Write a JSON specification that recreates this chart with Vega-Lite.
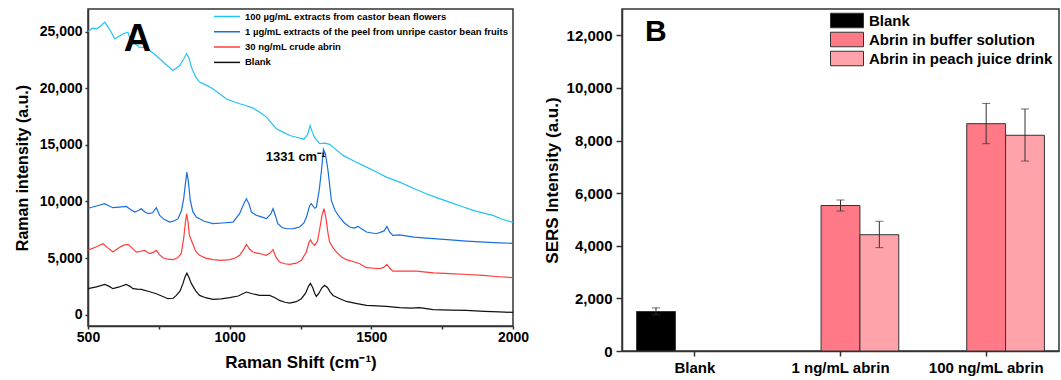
{
  "$schema": "https://vega.github.io/schema/vega-lite/v6.json",
  "autosize": {"type": "none"},
  "padding": {"left": 88, "top": 9, "right": 973, "bottom": 371},
  "bounds": "flush",
  "spacing": 109,
  "background": "white",
  "config": {
    "font": "Liberation Sans",
    "view": {"stroke": "#333", "strokeWidth": 1.5},
    "axis": {"domainColor": "#333", "domainWidth": 1.5, "tickColor": "#333", "tickWidth": 1.5, "labelColor": "black", "titleColor": "black", "labelFontWeight": "bold", "titleFontWeight": "bold", "grid": false, "labelOverlap": false, "labelFont": "Liberation Sans", "titleFont": "Liberation Sans"},
    "legend": {"labelFont": "Liberation Sans", "labelFontWeight": "bold", "labelColor": "black", "padding": 0}
  },
  "datasets": {
    "spectra": [
      {"series": "F", "x": 500, "y": 25000}, {"series": "F", "x": 515, "y": 25300}, {"series": "F", "x": 530, "y": 25250}, {"series": "F", "x": 545, "y": 25500}, {"series": "F", "x": 559, "y": 25840}, {"series": "F", "x": 571, "y": 25400}, {"series": "F", "x": 583, "y": 24900}, {"series": "F", "x": 594, "y": 24370}, {"series": "F", "x": 610, "y": 24600}, {"series": "F", "x": 624, "y": 24810}, {"series": "F", "x": 641, "y": 24950}, {"series": "F", "x": 653, "y": 24070}, {"series": "F", "x": 668, "y": 23900}, {"series": "F", "x": 682, "y": 23630}, {"series": "F", "x": 700, "y": 23600}, {"series": "F", "x": 718, "y": 23340}, {"series": "F", "x": 735, "y": 23000}, {"series": "F", "x": 753, "y": 22600}, {"series": "F", "x": 775, "y": 22100}, {"series": "F", "x": 800, "y": 21570}, {"series": "F", "x": 824, "y": 22010}, {"series": "F", "x": 838, "y": 22600}, {"series": "F", "x": 848, "y": 23050}, {"series": "F", "x": 856, "y": 22700}, {"series": "F", "x": 865, "y": 21860}, {"series": "F", "x": 880, "y": 21000}, {"series": "F", "x": 894, "y": 20540}, {"series": "F", "x": 915, "y": 20300}, {"series": "F", "x": 941, "y": 19960}, {"series": "F", "x": 965, "y": 19500}, {"series": "F", "x": 988, "y": 19070}, {"series": "F", "x": 1010, "y": 18850}, {"series": "F", "x": 1035, "y": 18630}, {"series": "F", "x": 1060, "y": 18450}, {"series": "F", "x": 1082, "y": 18250}, {"series": "F", "x": 1105, "y": 17900}, {"series": "F", "x": 1130, "y": 17450}, {"series": "F", "x": 1150, "y": 16850}, {"series": "F", "x": 1165, "y": 16420}, {"series": "F", "x": 1190, "y": 16100}, {"series": "F", "x": 1212, "y": 15830}, {"series": "F", "x": 1240, "y": 15650}, {"series": "F", "x": 1262, "y": 15500}, {"series": "F", "x": 1275, "y": 15900}, {"series": "F", "x": 1284, "y": 16700}, {"series": "F", "x": 1292, "y": 16100}, {"series": "F", "x": 1300, "y": 15650}, {"series": "F", "x": 1318, "y": 15100}, {"series": "F", "x": 1335, "y": 15150}, {"series": "F", "x": 1353, "y": 15050}, {"series": "F", "x": 1375, "y": 14600}, {"series": "F", "x": 1400, "y": 14070}, {"series": "F", "x": 1440, "y": 13550}, {"series": "F", "x": 1483, "y": 13030}, {"series": "F", "x": 1520, "y": 12580}, {"series": "F", "x": 1553, "y": 12150}, {"series": "F", "x": 1600, "y": 11710}, {"series": "F", "x": 1650, "y": 11150}, {"series": "F", "x": 1694, "y": 10680}, {"series": "F", "x": 1735, "y": 10300}, {"series": "F", "x": 1776, "y": 9940}, {"series": "F", "x": 1820, "y": 9550}, {"series": "F", "x": 1859, "y": 9210}, {"series": "F", "x": 1900, "y": 8950}, {"series": "F", "x": 1929, "y": 8770}, {"series": "F", "x": 1960, "y": 8450}, {"series": "F", "x": 2000, "y": 8150},
      {"series": "P", "x": 500, "y": 9400}, {"series": "P", "x": 530, "y": 9600}, {"series": "P", "x": 559, "y": 9800}, {"series": "P", "x": 575, "y": 9600}, {"series": "P", "x": 588, "y": 9450}, {"series": "P", "x": 610, "y": 9500}, {"series": "P", "x": 635, "y": 9560}, {"series": "P", "x": 650, "y": 9300}, {"series": "P", "x": 665, "y": 9060}, {"series": "P", "x": 678, "y": 9200}, {"series": "P", "x": 688, "y": 9360}, {"series": "P", "x": 700, "y": 9100}, {"series": "P", "x": 712, "y": 8920}, {"series": "P", "x": 728, "y": 9000}, {"series": "P", "x": 741, "y": 9450}, {"series": "P", "x": 753, "y": 8770}, {"series": "P", "x": 770, "y": 8400}, {"series": "P", "x": 788, "y": 8180}, {"series": "P", "x": 805, "y": 8300}, {"series": "P", "x": 818, "y": 8480}, {"series": "P", "x": 830, "y": 9200}, {"series": "P", "x": 838, "y": 10300}, {"series": "P", "x": 844, "y": 11600}, {"series": "P", "x": 849, "y": 12600}, {"series": "P", "x": 854, "y": 11800}, {"series": "P", "x": 861, "y": 10090}, {"series": "P", "x": 870, "y": 9100}, {"series": "P", "x": 882, "y": 8620}, {"series": "P", "x": 910, "y": 8250}, {"series": "P", "x": 941, "y": 8040}, {"series": "P", "x": 975, "y": 8100}, {"series": "P", "x": 1012, "y": 8180}, {"series": "P", "x": 1035, "y": 8920}, {"series": "P", "x": 1050, "y": 9800}, {"series": "P", "x": 1059, "y": 10240}, {"series": "P", "x": 1068, "y": 9800}, {"series": "P", "x": 1077, "y": 9060}, {"series": "P", "x": 1092, "y": 8800}, {"series": "P", "x": 1106, "y": 8680}, {"series": "P", "x": 1130, "y": 8480}, {"series": "P", "x": 1145, "y": 8900}, {"series": "P", "x": 1153, "y": 9360}, {"series": "P", "x": 1162, "y": 8700}, {"series": "P", "x": 1170, "y": 8040}, {"series": "P", "x": 1185, "y": 7700}, {"series": "P", "x": 1200, "y": 7590}, {"series": "P", "x": 1225, "y": 7600}, {"series": "P", "x": 1247, "y": 7740}, {"series": "P", "x": 1262, "y": 8100}, {"series": "P", "x": 1271, "y": 8620}, {"series": "P", "x": 1282, "y": 9600}, {"series": "P", "x": 1288, "y": 9800}, {"series": "P", "x": 1300, "y": 9400}, {"series": "P", "x": 1306, "y": 9500}, {"series": "P", "x": 1316, "y": 11000}, {"series": "P", "x": 1324, "y": 12740}, {"series": "P", "x": 1331, "y": 14600}, {"series": "P", "x": 1338, "y": 14200}, {"series": "P", "x": 1347, "y": 12740}, {"series": "P", "x": 1359, "y": 10090}, {"series": "P", "x": 1372, "y": 9200}, {"series": "P", "x": 1388, "y": 8620}, {"series": "P", "x": 1405, "y": 8100}, {"series": "P", "x": 1424, "y": 7740}, {"series": "P", "x": 1440, "y": 7650}, {"series": "P", "x": 1453, "y": 7800}, {"series": "P", "x": 1465, "y": 7600}, {"series": "P", "x": 1483, "y": 7300}, {"series": "P", "x": 1518, "y": 7150}, {"series": "P", "x": 1545, "y": 7400}, {"series": "P", "x": 1555, "y": 7800}, {"series": "P", "x": 1565, "y": 7300}, {"series": "P", "x": 1576, "y": 7000}, {"series": "P", "x": 1600, "y": 7050}, {"series": "P", "x": 1650, "y": 6850}, {"series": "P", "x": 1718, "y": 6710}, {"series": "P", "x": 1780, "y": 6600}, {"series": "P", "x": 1835, "y": 6500}, {"series": "P", "x": 1900, "y": 6400}, {"series": "P", "x": 1950, "y": 6350}, {"series": "P", "x": 2000, "y": 6300},
      {"series": "C", "x": 500, "y": 5700}, {"series": "C", "x": 530, "y": 6000}, {"series": "C", "x": 553, "y": 6270}, {"series": "C", "x": 570, "y": 5900}, {"series": "C", "x": 588, "y": 5530}, {"series": "C", "x": 605, "y": 5850}, {"series": "C", "x": 624, "y": 6120}, {"series": "C", "x": 641, "y": 6210}, {"series": "C", "x": 655, "y": 5900}, {"series": "C", "x": 671, "y": 5530}, {"series": "C", "x": 685, "y": 5600}, {"series": "C", "x": 700, "y": 5680}, {"series": "C", "x": 718, "y": 5390}, {"series": "C", "x": 730, "y": 5500}, {"series": "C", "x": 741, "y": 5680}, {"series": "C", "x": 752, "y": 5300}, {"series": "C", "x": 765, "y": 5030}, {"series": "C", "x": 782, "y": 4900}, {"series": "C", "x": 800, "y": 4860}, {"series": "C", "x": 815, "y": 5000}, {"series": "C", "x": 829, "y": 5390}, {"series": "C", "x": 838, "y": 6800}, {"series": "C", "x": 844, "y": 8200}, {"series": "C", "x": 848, "y": 8900}, {"series": "C", "x": 853, "y": 8200}, {"series": "C", "x": 858, "y": 7000}, {"series": "C", "x": 865, "y": 6560}, {"series": "C", "x": 880, "y": 5600}, {"series": "C", "x": 894, "y": 5240}, {"series": "C", "x": 915, "y": 5000}, {"series": "C", "x": 941, "y": 4860}, {"series": "C", "x": 970, "y": 4800}, {"series": "C", "x": 1000, "y": 4860}, {"series": "C", "x": 1020, "y": 5000}, {"series": "C", "x": 1035, "y": 5240}, {"series": "C", "x": 1048, "y": 5700}, {"series": "C", "x": 1059, "y": 6210}, {"series": "C", "x": 1070, "y": 5800}, {"series": "C", "x": 1082, "y": 5530}, {"series": "C", "x": 1106, "y": 5400}, {"series": "C", "x": 1130, "y": 5240}, {"series": "C", "x": 1145, "y": 5500}, {"series": "C", "x": 1153, "y": 5740}, {"series": "C", "x": 1163, "y": 5100}, {"series": "C", "x": 1176, "y": 4650}, {"series": "C", "x": 1195, "y": 4500}, {"series": "C", "x": 1212, "y": 4440}, {"series": "C", "x": 1235, "y": 4550}, {"series": "C", "x": 1253, "y": 4800}, {"series": "C", "x": 1270, "y": 5500}, {"series": "C", "x": 1280, "y": 6400}, {"series": "C", "x": 1285, "y": 6620}, {"series": "C", "x": 1292, "y": 6300}, {"series": "C", "x": 1300, "y": 6120}, {"series": "C", "x": 1310, "y": 6500}, {"series": "C", "x": 1318, "y": 7590}, {"series": "C", "x": 1326, "y": 8800}, {"series": "C", "x": 1333, "y": 9360}, {"series": "C", "x": 1340, "y": 8500}, {"series": "C", "x": 1347, "y": 7200}, {"series": "C", "x": 1353, "y": 6410}, {"series": "C", "x": 1365, "y": 5900}, {"series": "C", "x": 1377, "y": 5530}, {"series": "C", "x": 1395, "y": 5100}, {"series": "C", "x": 1412, "y": 4860}, {"series": "C", "x": 1435, "y": 4700}, {"series": "C", "x": 1459, "y": 4500}, {"series": "C", "x": 1483, "y": 4150}, {"series": "C", "x": 1510, "y": 4100}, {"series": "C", "x": 1530, "y": 4060}, {"series": "C", "x": 1545, "y": 4200}, {"series": "C", "x": 1555, "y": 4440}, {"series": "C", "x": 1565, "y": 4100}, {"series": "C", "x": 1576, "y": 3850}, {"series": "C", "x": 1620, "y": 3850}, {"series": "C", "x": 1659, "y": 3850}, {"series": "C", "x": 1720, "y": 3700}, {"series": "C", "x": 1776, "y": 3620}, {"series": "C", "x": 1840, "y": 3550}, {"series": "C", "x": 1894, "y": 3470}, {"series": "C", "x": 1950, "y": 3350}, {"series": "C", "x": 2000, "y": 3270},
      {"series": "B", "x": 500, "y": 2300}, {"series": "B", "x": 530, "y": 2450}, {"series": "B", "x": 559, "y": 2680}, {"series": "B", "x": 575, "y": 2500}, {"series": "B", "x": 588, "y": 2300}, {"series": "B", "x": 610, "y": 2450}, {"series": "B", "x": 635, "y": 2680}, {"series": "B", "x": 648, "y": 2500}, {"series": "B", "x": 659, "y": 2300}, {"series": "B", "x": 675, "y": 2250}, {"series": "B", "x": 688, "y": 2230}, {"series": "B", "x": 715, "y": 2050}, {"series": "B", "x": 741, "y": 1850}, {"series": "B", "x": 760, "y": 1650}, {"series": "B", "x": 782, "y": 1410}, {"series": "B", "x": 800, "y": 1450}, {"series": "B", "x": 812, "y": 1700}, {"series": "B", "x": 825, "y": 2100}, {"series": "B", "x": 835, "y": 2740}, {"series": "B", "x": 842, "y": 3300}, {"series": "B", "x": 849, "y": 3670}, {"series": "B", "x": 856, "y": 3300}, {"series": "B", "x": 865, "y": 2740}, {"series": "B", "x": 880, "y": 2100}, {"series": "B", "x": 894, "y": 1700}, {"series": "B", "x": 915, "y": 1500}, {"series": "B", "x": 941, "y": 1350}, {"series": "B", "x": 970, "y": 1400}, {"series": "B", "x": 1000, "y": 1500}, {"series": "B", "x": 1030, "y": 1650}, {"series": "B", "x": 1059, "y": 2000}, {"series": "B", "x": 1080, "y": 1850}, {"series": "B", "x": 1106, "y": 1700}, {"series": "B", "x": 1141, "y": 1700}, {"series": "B", "x": 1160, "y": 1500}, {"series": "B", "x": 1176, "y": 1260}, {"series": "B", "x": 1195, "y": 1100}, {"series": "B", "x": 1212, "y": 1030}, {"series": "B", "x": 1235, "y": 1150}, {"series": "B", "x": 1253, "y": 1410}, {"series": "B", "x": 1268, "y": 1900}, {"series": "B", "x": 1278, "y": 2500}, {"series": "B", "x": 1285, "y": 2760}, {"series": "B", "x": 1293, "y": 2400}, {"series": "B", "x": 1300, "y": 1900}, {"series": "B", "x": 1306, "y": 1620}, {"series": "B", "x": 1315, "y": 1900}, {"series": "B", "x": 1325, "y": 2350}, {"series": "B", "x": 1335, "y": 2590}, {"series": "B", "x": 1345, "y": 2400}, {"series": "B", "x": 1355, "y": 2000}, {"series": "B", "x": 1365, "y": 1700}, {"series": "B", "x": 1385, "y": 1450}, {"series": "B", "x": 1412, "y": 1170}, {"series": "B", "x": 1445, "y": 1000}, {"series": "B", "x": 1483, "y": 820}, {"series": "B", "x": 1520, "y": 770}, {"series": "B", "x": 1553, "y": 730}, {"series": "B", "x": 1600, "y": 620}, {"series": "B", "x": 1640, "y": 580}, {"series": "B", "x": 1671, "y": 620}, {"series": "B", "x": 1700, "y": 520}, {"series": "B", "x": 1718, "y": 440}, {"series": "B", "x": 1780, "y": 410}, {"series": "B", "x": 1835, "y": 380}, {"series": "B", "x": 1900, "y": 300}, {"series": "B", "x": 1950, "y": 250}, {"series": "B", "x": 2000, "y": 200}
    ],
    "bars": [
      {"conc": "Blank", "group": "Blank", "value": 1500, "lo": 1380, "hi": 1640},
      {"conc": "1 ng/mL abrin", "group": "Abrin in buffer solution", "value": 5530, "lo": 5320, "hi": 5740},
      {"conc": "1 ng/mL abrin", "group": "Abrin in peach juice drink", "value": 4420, "lo": 3930, "hi": 4930},
      {"conc": "100 ng/mL abrin", "group": "Abrin in buffer solution", "value": 8640, "lo": 7880, "hi": 9410},
      {"conc": "100 ng/mL abrin", "group": "Abrin in peach juice drink", "value": 8200, "lo": 7220, "hi": 9200}
    ]
  },
  "hconcat": [
    {
      "width": 425,
      "height": 317,
      "layer": [
        {
          "data": {"name": "spectra"},
          "mark": {"type": "line", "strokeWidth": 1.2},
          "encoding": {
            "x": {"field": "x", "type": "quantitative",
              "scale": {"domain": [500, 2000], "nice": false, "zero": false},
              "axis": {"values": [500, 750, 1000, 1250, 1500, 1750, 2000], "labelExpr": "datum.value % 500 == 0 ? format(datum.value, 'd') : ''", "title": "Raman Shift (cm⁻¹)", "labelFontSize": 14, "titleFontSize": 17, "tickSize": 3, "labelPadding": 1, "titlePadding": 10, "labelFlush": false}},
            "y": {"field": "y", "type": "quantitative",
              "scale": {"domain": [-1000, 27000], "nice": false, "zero": false},
              "axis": {"values": [0, 2500, 5000, 7500, 10000, 12500, 15000, 17500, 20000, 22500, 25000], "labelExpr": "datum.value % 5000 == 0 ? format(datum.value, ',') : ''", "title": "Raman intensity (a.u.)", "labelFontSize": 14, "titleFontSize": 16, "tickSize": 3, "labelPadding": 3, "titlePadding": 9}},
            "stroke": {"field": "series", "type": "nominal",
              "scale": {"domain": ["F", "P", "C", "B"], "range": ["#22C3F2", "#1A6FDC", "#FF3D3D", "#111111"]},
              "legend": {"title": null, "orient": "none", "legendX": 125, "legendY": 0, "symbolType": "stroke", "symbolSize": 676, "symbolStrokeWidth": 1.5, "labelFontSize": 9.5, "labelOffset": 4, "clipHeight": 15, "rowPadding": 0.3,
                "labelExpr": "datum.value == 'F' ? '100 µg/mL extracts from castor bean flowers' : datum.value == 'P' ? '1 µg/mL extracts of the peel from unripe castor bean fruits' : datum.value == 'C' ? '30 ng/mL crude abrin' : 'Blank'", "labelLimit": 400}}
          }
        },
        {
          "data": {"values": [{"x": 1233, "y": 13900, "label": "1331 cm⁻¹"}, {"x": 675, "y": 24300, "label": "A"}]},
          "mark": {"type": "text", "fontWeight": "bold", "align": "center", "baseline": "middle", "color": "black", "font": "Liberation Sans"},
          "encoding": {
            "x": {"field": "x", "type": "quantitative"},
            "y": {"field": "y", "type": "quantitative"},
            "text": {"field": "label"},
            "size": {"condition": {"test": "datum.label == 'A'", "value": 38}, "value": 13}
          }
        }
      ]
    },
    {
      "width": 437,
      "height": 342,
      "data": {"name": "bars"},
      "encoding": {
        "x": {"field": "conc", "type": "nominal", "sort": ["Blank", "1 ng/mL abrin", "100 ng/mL abrin"],
          "scale": {"paddingInner": 0.2, "paddingOuter": 0.1},
          "axis": {"title": null, "labelAngle": 0, "labelFontSize": 15, "tickSize": 5, "labelPadding": 4}},
        "xOffset": {"field": "group", "type": "nominal", "scale": {"domain": ["Blank", "Abrin in buffer solution", "Abrin in peach juice drink"], "paddingInner": 0, "paddingOuter": 0}}
      },
      "layer": [
        {
          "mark": {"type": "bar", "stroke": "#333", "strokeWidth": 1},
          "encoding": {
            "y": {"field": "value", "type": "quantitative",
              "scale": {"domain": [0, 13000], "nice": false},
              "axis": {"values": [0, 1000, 2000, 3000, 4000, 5000, 6000, 7000, 8000, 9000, 10000, 11000, 12000], "labelExpr": "datum.value % 2000 == 0 ? format(datum.value, ',') : ''", "title": "SERS Intensity (a.u.)", "labelFontSize": 15, "titleFontSize": 17, "tickSize": 6, "labelPadding": 4, "titlePadding": 5}},
            "fill": {"field": "group", "type": "nominal",
              "scale": {"domain": ["Blank", "Abrin in buffer solution", "Abrin in peach juice drink"], "range": ["#000000", "#FF7A86", "#FFA2AA"]},
              "legend": {"title": null, "orient": "none", "legendX": 742, "legendY": 2, "symbolType": "M-1,-0.44H1V0.44H-1Z", "symbolSize": 1089, "symbolStrokeColor": "#333", "symbolStrokeWidth": 1, "symbolOpacity": 1, "labelFontSize": 15, "labelOffset": 5, "clipHeight": 19, "rowPadding": 0, "labelLimit": 400}}
          }
        },
        {
          "mark": {"type": "rule", "color": "#333", "strokeWidth": 1},
          "encoding": {"y": {"field": "lo", "type": "quantitative"}, "y2": {"field": "hi"}}
        },
        {
          "mark": {"type": "tick", "color": "#333", "thickness": 1, "size": 8},
          "encoding": {"y": {"field": "hi", "type": "quantitative"}}
        },
        {
          "mark": {"type": "tick", "color": "#333", "thickness": 1, "size": 8},
          "encoding": {"y": {"field": "lo", "type": "quantitative"}}
        },
        {
          "data": {"values": [{"conc": "Blank", "y": 11770, "label": "B"}]},
          "mark": {"type": "text", "fontWeight": "bold", "fontSize": 30, "align": "center", "baseline": "alphabetic", "dx": -39, "color": "black", "font": "Liberation Sans"},
          "encoding": {"xOffset": null, "y": {"field": "y", "type": "quantitative"}, "text": {"field": "label"}}
        }
      ]
    }
  ]
}
